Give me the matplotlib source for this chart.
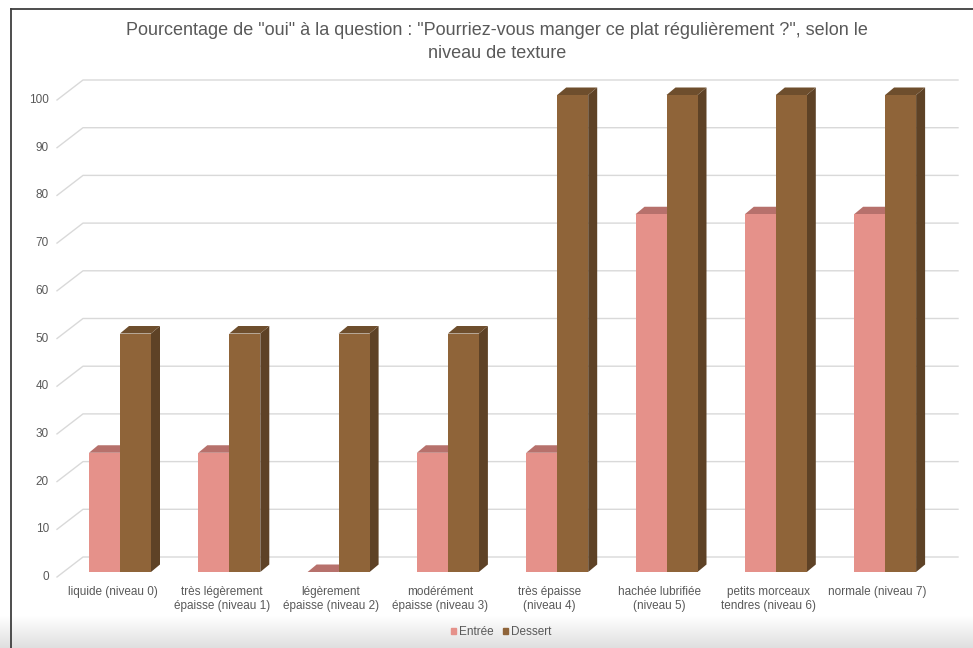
"""
Percentage of "yes" answers per texture level, drawn as pseudo-3D columns.
"""

import numpy as np
import matplotlib.pyplot as plt
from matplotlib.patches import Polygon
from matplotlib.lines import Line2D

categories = [
    "liquide (niveau 0)",
    "très légèrement\népaisse (niveau 1)",
    "légèrement\népaisse (niveau 2)",
    "modérément\népaisse (niveau 3)",
    "très épaisse\n(niveau 4)",
    "hachée lubrifiée\n(niveau 5)",
    "petits morceaux\ntendres (niveau 6)",
    "normale (niveau 7)",
]
entree = [25, 25, 0, 25, 25, 75, 75, 75]
dessert = [50, 50, 50, 50, 100, 100, 100, 100]
y_ticks = [0, 10, 20, 30, 40, 50, 60, 70, 80, 90, 100]
series_names = ["Entrée", "Dessert"]
title = ('Pourcentage de "oui" à la question : "Pourriez-vous manger ce plat '
         'régulièrement ?", selon le\nniveau de texture')

# face colours: front, top, side
colors = {
    "Entrée": ("#E5918A", "#B7716C", "#A9645F"),
    "Dessert": ("#8F6439", "#6E4E2D", "#5E4226"),
}
text_color = "#595959"
grid_color = "#D9D9D9"

plt.rcParams['font.family'] = ['Liberation Sans', 'DejaVu Sans']

W, H = 973, 648
fig = plt.figure(figsize=(W / 100, H / 100), dpi=100)

# soft grey shading along the bottom of the chart area
bg = fig.add_axes([0, 0, 1, 32 / H], zorder=0)
shade = np.linspace(1.0, 0.915, 64) ** 1.5
img = np.dstack([shade, shade, shade]).reshape(-1, 1, 3)
bg.imshow(img, aspect='auto', extent=[0, 1, 0, 1], interpolation='bilinear')
bg.axis('off')

# one axes over the whole figure; data units = categories / percent
X0, SX = 120.0, 109.3   # centre of first group (px), px per category
Y0, SY = 572.0, 4.77    # bar base (px from top), px per percent
ax = fig.add_axes([0, 0, 1, 1], zorder=1)
ax.set_xlim(-X0 / SX, (W - X0) / SX)
ax.set_ylim((Y0 - H) / SY, Y0 / SY)
ax.axis('off')

bw = 31 / SX                 # bar width
bdx, bdy = 9 / SX, 7.5 / SY  # bar depth
wall_front = ((57 - X0) / SX, -5 / SY)
wall_back = ((83 - X0) / SX, 15 / SY)
grid_end = (958 - X0) / SX

# back wall gridlines with the side-wall diagonal
for v in y_ticks:
    ax.add_line(Line2D([wall_front[0], wall_back[0], grid_end],
                       [v + wall_front[1], v + wall_back[1], v + wall_back[1]],
                       color=grid_color, lw=1.0, zorder=1))
    ax.text(wall_front[0] - 8 / SX, v + wall_front[1], str(v),
            ha='right', va='center', fontsize=8.5, color=text_color)


def bar3d(x, h, name, z):
    front, top, side = colors[name]
    ax.add_patch(Polygon([(x + bw, 0), (x + bw + bdx, bdy),
                          (x + bw + bdx, h + bdy), (x + bw, h)],
                         closed=True, facecolor=side, edgecolor='none', zorder=z))
    ax.add_patch(Polygon([(x, h), (x + bw, h), (x + bw + bdx, h + bdy),
                          (x + bdx, h + bdy)],
                         closed=True, facecolor=top, edgecolor='none', zorder=z))
    ax.bar(x, h, width=bw, align='edge', color=front, zorder=z)


for i in range(len(categories)):
    bar3d(i - bw, entree[i], "Entrée", 2 + 2 * i)
    bar3d(i, dessert[i], "Dessert", 3 + 2 * i)
    ax.text(i - 7.5 / SX, -14 / SY, categories[i], ha='center', va='top',
            fontsize=8.5, color=text_color, linespacing=1.25)

# legend
handles = [plt.Rectangle((0, 0), 1, 1, color=colors[n][0]) for n in series_names]
fig.legend(handles, series_names, loc='center', bbox_to_anchor=(501 / W, 1 - 632 / H),
           ncol=2, frameon=False, fontsize=8.5, handlelength=0.45, handleheight=0.45,
           handletextpad=0.25, columnspacing=0.8, labelcolor=text_color)

fig.text(497 / W, 1 - 42 / H, title, ha='center', va='center', fontsize=13,
         color=text_color, linespacing=1.45)

# chart frame (left and top edges)
fig.add_artist(Line2D([11 / W, 11 / W], [0, 1 - 9 / H], color="#3F3F3F",
                      lw=1.3, transform=fig.transFigure))
fig.add_artist(Line2D([11 / W, 1], [1 - 9 / H, 1 - 9 / H], color="#3F3F3F",
                      lw=1.3, transform=fig.transFigure))

fig.savefig("out.png", dpi=100)
